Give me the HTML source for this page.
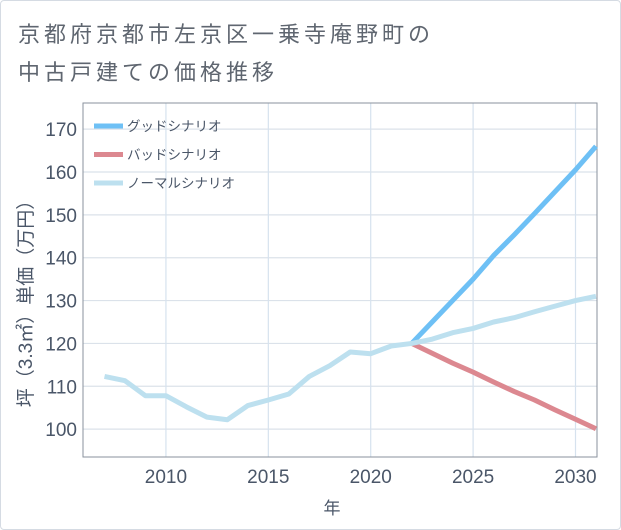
<!DOCTYPE html>
<html><head><meta charset="utf-8"><style>
body{margin:0;background:#fff;}
#card{position:absolute;left:0;top:0;width:619px;height:528px;border:1px solid #d5dbe3;border-radius:4px;background:#fff;}
.t{position:absolute;left:18px;font:22px "Liberation Sans","Noto Sans CJK JP",sans-serif;letter-spacing:4px;color:#5f6670;}
svg{position:absolute;left:0;top:0;}
svg text{font-family:"Liberation Sans","Noto Sans CJK JP",sans-serif;}
</style></head><body>
<div id="card"></div>
<div class="t" style="top:17px">京都府京都市左京区一乗寺庵野町の</div>
<div class="t" style="top:55px">中古戸建ての価格推移</div>
<svg id="chart" width="621" height="530"></svg>
<script>
const years=[2007,2008,2009,2010,2011,2012,2013,2014,2015,2016,2017,2018,2019,2020,2021,2022,2023,2024,2025,2026,2027,2028,2029,2030,2031];
const normal=[112.3,111.3,107.8,107.8,105.2,102.8,102.2,105.5,106.8,108.2,112.3,114.8,118,117.6,119.4,120,121,122.5,123.5,125,126,127.4,128.7,130,131];
const forecastYears=[2022,2023,2024,2025,2026,2027,2028,2029,2030,2031];
const good=[120,125,130,135,140.5,145.3,150.3,155.4,160.5,166];
const bad=[120,117.7,115.4,113.3,111,108.8,106.8,104.5,102.3,100.1];
const xTicks=[2010,2015,2020,2025,2030];
const yTicks=[100,110,120,130,140,150,160,170];
const NS='http://www.w3.org/2000/svg';
const svg=document.getElementById('chart');
const L=83,R=597,T=103,B=457;
const x=v=>L+(v-2005.95)*(R-L)/(2031.05-2005.95);
const y=v=>B-(v-93.5)*(B-T)/(176.1-93.5);
function mk(tag,attrs){const e=document.createElementNS(NS,tag);for(const k in attrs)e.setAttribute(k,attrs[k]);svg.appendChild(e);return e;}
for(const v of yTicks){
 const g=mk('line',{x1:L,x2:R,y1:y(v),y2:y(v),stroke:'#dbe2ea','stroke-width':1.2});
 
 
 const t=mk('text',{x:L-6,y:y(v)+7,'text-anchor':'end','font-size':19,fill:'#4a5668'});t.textContent=v;
 
 
}
for(const v of xTicks){
 const g=mk('line',{x1:x(v),x2:x(v),y1:T,y2:B,stroke:'#d6e2ee','stroke-width':1.2});
 
 
 const t=mk('text',{x:x(v),y:B+26,'text-anchor':'middle','font-size':19,fill:'#4a5668'});t.textContent=v;
 
 
}
const fr=mk('rect',{x:L,y:T,width:R-L,height:B-T,fill:'none',stroke:'#8a929c','stroke-width':1});


function line(xs,ys,color,name){
 const p=mk('polyline',{points:xs.map((v,i)=>x(v)+','+y(ys[i])).join(' '),fill:'none',stroke:color,'stroke-width':5,'stroke-linejoin':'round'});
 
 
}
line(forecastYears,good,'#6ec0f5','good-scenario-line');
line(forecastYears,bad,'#dc8890','bad-scenario-line');
line(years,normal,'#bde0ef','normal-scenario-line');
const leg=[['グッドシナリオ','#6ec0f5'],['バッドシナリオ','#dc8890'],['ノーマルシナリオ','#bde0ef']];
leg.forEach((l,i)=>{
 const yy=126+i*28.5;
 const s=mk('line',{x1:94,x2:123,y1:yy,y2:yy,stroke:l[1],'stroke-width':5});
 
 
 const t=mk('text',{x:127,y:yy+5,'font-size':13.5,fill:'#4a5668'});t.textContent=l[0];
 
 
});
const yt=mk('text',{x:0,y:0,'font-size':19,fill:'#4a5668','text-anchor':'middle',transform:'translate(32,299) rotate(-90)'});
yt.textContent='坪（3.3㎡）単価（万円）';


const xt=mk('text',{x:332,y:514,'font-size':17,fill:'#4a5668','text-anchor':'middle'});
xt.textContent='年';


</script>
</body></html>
